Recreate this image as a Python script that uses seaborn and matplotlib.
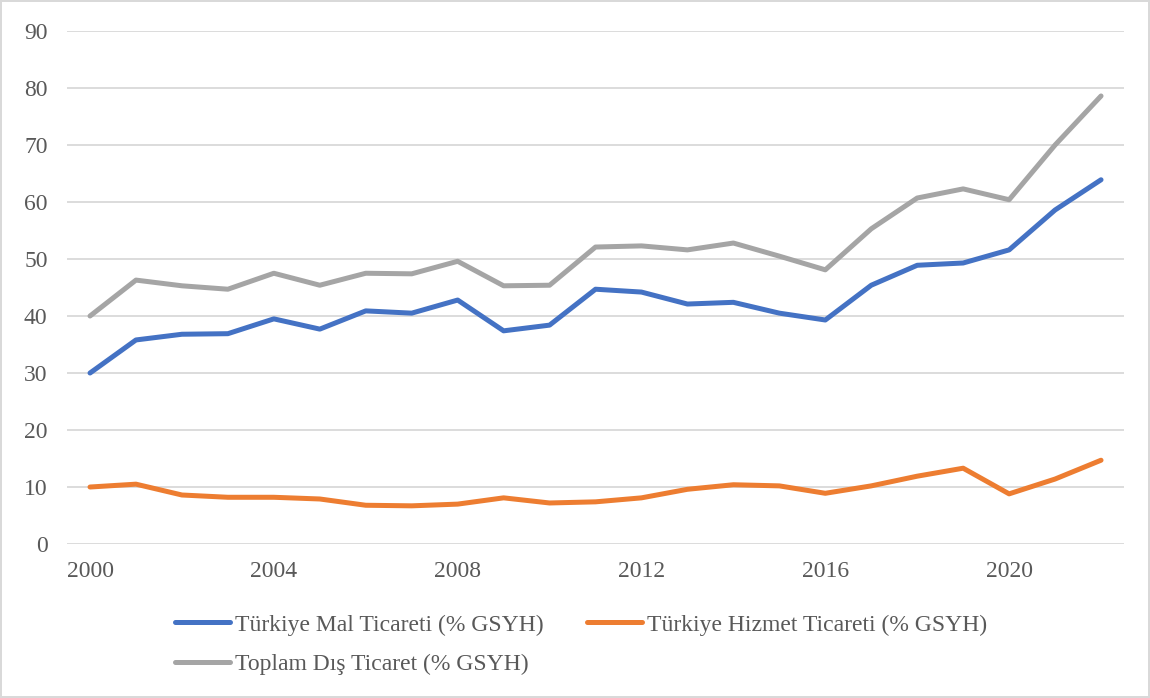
import matplotlib
matplotlib.use("Agg")
import matplotlib.pyplot as plt
import seaborn as sns
import pandas as pd

years = list(range(2000, 2023))
mal = [30.0, 35.8, 36.8, 36.9, 39.5, 37.7, 40.9, 40.5, 42.8, 37.4, 38.4, 44.7,
       44.2, 42.1, 42.4, 40.5, 39.3, 45.4, 48.9, 49.3, 51.6, 58.6, 63.9]
hizmet = [10.0, 10.5, 8.6, 8.2, 8.2, 7.9, 6.8, 6.7, 7.0, 8.1, 7.2, 7.4,
          8.1, 9.6, 10.4, 10.2, 8.9, 10.2, 11.9, 13.3, 8.8, 11.4, 14.7]
toplam = [40.0, 46.3, 45.3, 44.7, 47.5, 45.4, 47.5, 47.4, 49.6, 45.3, 45.4, 52.1,
          52.3, 51.6, 52.8, 50.5, 48.1, 55.3, 60.7, 62.3, 60.4, 70.0, 78.6]
series_names = ["Türkiye Mal Ticareti (% GSYH)",
                "Türkiye Hizmet Ticareti (% GSYH)",
                "Toplam Dış Ticaret (% GSYH)"]
colors = ["#4472C4", "#ED7D31", "#A5A5A5"]
x_ticks = [2000, 2004, 2008, 2012, 2016, 2020]
y_ticks = list(range(0, 100, 10))

df = pd.DataFrame({
    "Yıl": years * 3,
    "Değer": mal + hizmet + toplam,
    "Seri": [series_names[0]] * len(years) + [series_names[1]] * len(years) + [series_names[2]] * len(years),
})

sns.set_style("white")
plt.rcParams["font.family"] = ["Liberation Serif", "DejaVu Serif"]

fig = plt.figure(figsize=(11.5, 6.98), dpi=100)
fig.patch.set_edgecolor("#D9D9D9")
fig.patch.set_linewidth(1.5)
ax = fig.add_axes([0.0583, 0.2206, 0.9191, 0.735])

sns.lineplot(data=df, x="Yıl", y="Değer", hue="Seri", palette=colors,
             hue_order=series_names, linewidth=3.6, ax=ax, legend=True)
for ln in ax.get_lines():
    ln.set_solid_capstyle("round")
    ln.set_solid_joinstyle("round")

ax.set_xlim(1999.5, 2022.5)
ax.set_ylim(0, 90)
ax.set_xticks(x_ticks)
ax.set_yticks(y_ticks)
ax.set_xlabel("")
ax.set_ylabel("")
ax.grid(axis="y", color="#D9D9D9", linewidth=1.3)
ax.set_axisbelow(True)
for s in ax.spines.values():
    s.set_visible(False)
ax.tick_params(axis="both", length=0, labelsize=17, colors="#595959")
ax.tick_params(axis="y", pad=14)
ax.tick_params(axis="x", pad=12)

handles, labels = ax.get_legend_handles_labels()
ax.get_legend().remove()
order = [0, 2, 1]  # column-major fill -> rows: Mal, Hizmet / Toplam
leg = fig.legend([handles[i] for i in order], [labels[i] for i in order],
                 loc="upper left", bbox_to_anchor=(175 / 1150, 1 - 614 / 698),
                 ncol=2, frameon=False, fontsize=17, handlelength=2.33,
                 handletextpad=0.2, columnspacing=1.85, labelspacing=0.78,
                 borderpad=0, borderaxespad=0)
for t in leg.get_texts():
    t.set_color("#595959")
for h in leg.get_lines():
    h.set_linewidth(3.6)
    h.set_solid_capstyle("round")

fig.savefig("out.png", dpi=100, edgecolor=fig.get_edgecolor())
